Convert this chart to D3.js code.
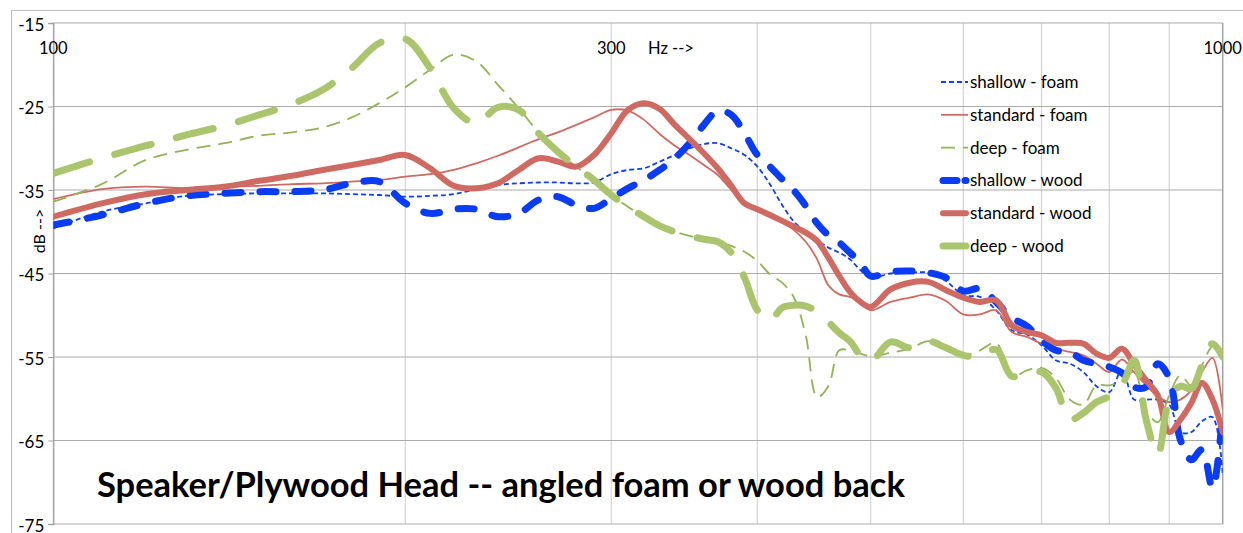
<!DOCTYPE html>
<html>
<head>
<meta charset="utf-8">
<script src="https://cdn.jsdelivr.net/npm/d3@7/dist/d3.min.js"></script>
<style>
  body { margin: 0; background: #fff; }
  svg { display: block; }
</style>
</head>
<body>
<svg id="chart"></svg>
<script>
// frequencies (Hz) shared by all six series
var freqs = [100,110,120,130,140,150,160,170,180,190,200,210,220,230,240,250,260,270,280,290,
  300,310,320,330,340,350,360,370,380,390,400,410,420,430,440,450,460,470,480,490,500,
  520,540,560,580,600,620,640,660,680,700,720,740,760,780,800,820,840,860,880,900,920,940,960,980,1000];

var shallowFoam = [-39.6,-37.6,-36.6,-35.7,-35.5,-35.4,-35.4,-35.4,-35.5,-35.6,-35.8,-35.7,-35.5,-34.9,-34.4,-34.2,-34.1,-34.1,-34.2,-34.1,
  -33.1,-32.6,-32.4,-31.6,-30.8,-30.0,-29.5,-29.4,-30.0,-30.8,-32.2,-34.3,-36.8,-38.8,-40.0,-41.0,-41.9,-42.5,-43.3,-44.6,-45.5,
  -45.0,-44.9,-44.9,-45.9,-47.6,-47.8,-49.4,-51.8,-52.3,-53.6,-55.4,-55.8,-56.8,-58.5,-59.2,-56.6,-60.1,-60.1,-60.1,-60.7,-64.0,-64.0,-62.7,-62.2,-69.1];

var standardFoam = [-36.1,-34.9,-34.6,-34.8,-34.6,-34.5,-34.3,-34.2,-34.0,-33.8,-33.4,-33.1,-32.6,-31.8,-30.9,-29.9,-28.9,-28.1,-27.2,-26.3,
  -25.4,-25.5,-26.6,-28.3,-29.7,-30.8,-32.0,-33.2,-35.0,-36.7,-37.4,-38.1,-38.8,-39.8,-41.2,-43.3,-46.4,-47.5,-47.8,-48.5,-49.4,
  -48.4,-47.9,-47.5,-48.3,-49.9,-49.9,-49.4,-52.0,-52.6,-53.4,-54.0,-54.4,-54.8,-55.8,-56.8,-55.3,-56.8,-58.4,-59.7,-60.4,-60.1,-59.0,-56.8,-55.1,-61.3];

var deepFoam = [-36.4,-34.3,-31.4,-30.2,-29.4,-28.5,-28.1,-27.5,-26.3,-24.6,-22.7,-20.6,-18.8,-19.6,-22.4,-25.2,-28.1,-30.4,-32.2,-33.8,
  -35.6,-37.0,-38.2,-39.3,-40.0,-40.5,-40.9,-41.2,-41.7,-42.4,-43.5,-45.1,-46.1,-47.9,-52.4,-59.8,-58.5,-54.2,-54.2,-54.6,-54.9,
  -54.5,-54.0,-53.1,-53.9,-54.8,-54.2,-53.3,-57.4,-56.6,-56.3,-57.5,-60.1,-60.7,-58.4,-58.4,-57.8,-56.8,-61.3,-62.8,-59.6,-57.2,-58.4,-56.0,-53.7,-53.6];

var shallowWood = [-39.2,-38.0,-36.6,-35.7,-35.4,-35.2,-35.2,-35.0,-34.2,-34.0,-36.6,-37.8,-37.3,-37.3,-38.2,-37.8,-36.2,-35.8,-36.8,-37.2,
  -36.0,-34.8,-33.8,-32.6,-31.2,-29.4,-27.2,-25.5,-26.0,-28.2,-30.8,-32.2,-33.7,-35.1,-36.9,-39.0,-40.4,-41.3,-42.5,-43.7,-45.3,
  -44.8,-44.7,-44.9,-45.5,-47.1,-46.8,-48.4,-50.3,-51.3,-53.0,-54.2,-54.4,-55.4,-55.8,-56.2,-56.9,-58.6,-58.6,-55.8,-57.5,-64.9,-67.3,-66.1,-70.7,-61.7];

var standardWood = [-38.2,-36.6,-35.5,-35.0,-34.6,-33.9,-33.3,-32.6,-32.0,-31.4,-30.8,-32.4,-34.5,-34.8,-34.2,-32.6,-31.2,-31.6,-32.2,-30.8,
  -28.2,-25.4,-24.6,-25.3,-27.2,-28.9,-30.6,-32.4,-34.5,-36.6,-37.3,-38.0,-38.7,-39.4,-40.1,-41.1,-43.1,-45.3,-47.2,-48.4,-49.0,
  -46.9,-46.1,-46.0,-47.0,-47.9,-48.4,-48.2,-51.2,-52.0,-52.4,-53.3,-53.3,-53.4,-54.6,-55.1,-54.0,-55.9,-57.8,-59.6,-64.0,-62.5,-60.5,-58.1,-60.1,-64.0];

var deepWood = [-33.0,-31.2,-29.7,-28.4,-27.3,-26.0,-24.7,-23.0,-20.4,-17.4,-16.9,-20.4,-25.2,-27.0,-25.1,-25.4,-28.2,-30.4,-32.2,-33.8,
  -35.6,-37.0,-38.2,-39.3,-40.0,-40.5,-40.9,-41.2,-42.5,-45.5,-49.4,-50.6,-49.1,-48.8,-48.9,-49.6,-50.8,-52.1,-53.1,-54.8,-55.5,
  -53.2,-53.9,-53.1,-53.9,-54.8,-54.9,-54.1,-57.3,-57.0,-56.8,-58.7,-62.5,-61.7,-60.4,-59.7,-58.4,-55.4,-62.5,-66.7,-60.1,-58.5,-58.8,-56.0,-53.4,-55.0];

var seriesNames = ["shallow - foam","standard - foam","deep - foam","shallow - wood","standard - wood","deep - wood"];
var seriesValues = [shallowFoam, standardFoam, deepFoam, shallowWood, standardWood, deepWood];

var yTicks = [-15,-25,-35,-45,-55,-65,-75];
var xGrid = [100,200,300,400,500,600,700,800,900,1000];
var xLabels = [100,300,1000];

// line styles per series
var styles = [
  {color:"#1040f0", width:1.8, dash:"5,3", cap:"butt"},
  {color:"#cf6a63", width:1.8, dash:null, cap:"butt"},
  {color:"#93b25a", width:1.8, dash:"14,8", cap:"butt"},
  {color:"#0a3cf5", width:7, dash:"16,19", cap:"round"},
  {color:"#cf6a63", width:6, dash:null, cap:"round"},
  {color:"#abc56e", width:7, dash:"38,26", cap:"round"}
];

var W = 1243, H = 533;
var pLeft = 53.3, pRight = 1222.7, pTop = 23, pBottom = 524;
var font = "Lato, 'Open Sans', sans-serif";

var svg = d3.select("#chart").attr("width", W).attr("height", H);

// outer chart area border
svg.append("rect")
  .attr("x", 11.5).attr("y", 10.5)
  .attr("width", 1300).attr("height", 600)
  .attr("fill", "none").attr("stroke", "#bdbdbd").attr("stroke-width", 1);

var x = d3.scaleLog().domain([100, 1000]).range([pLeft, pRight]);
var y = d3.scaleLinear().domain([-75, -15]).range([pBottom, pTop]);

// vertical gridlines
svg.append("g").selectAll("line")
  .data(xGrid)
  .enter().append("line")
  .attr("x1", function(d){return x(d);})
  .attr("x2", function(d){return x(d);})
  .attr("y1", pTop).attr("y2", pBottom)
  .attr("stroke", "#d4d4d4").attr("stroke-width", 1.2);

// horizontal gridlines
svg.append("g").selectAll("line")
  .data(yTicks)
  .enter().append("line")
  .attr("x1", pLeft).attr("x2", pRight)
  .attr("y1", function(d){return y(d);})
  .attr("y2", function(d){return y(d);})
  .attr("stroke", "#ababab").attr("stroke-width", 1.2);

// right border of plot
svg.append("line").attr("x1", pRight).attr("x2", pRight).attr("y1", pTop).attr("y2", pBottom)
  .attr("stroke", "#a0a0a0").attr("stroke-width", 1.3);

var yAxis = d3.axisLeft(y).tickValues(yTicks).tickSize(5).tickPadding(4)
  .tickFormat(function(d){ return "-" + Math.abs(d); });
var yg = svg.append("g").attr("transform", "translate(" + pLeft + ",0)").call(yAxis);
yg.select(".domain").attr("stroke", "#a0a0a0").attr("stroke-width", 1.3);
yg.selectAll(".tick line").attr("stroke", "#a0a0a0");
yg.selectAll(".tick text")
  .attr("font-family", font)
  .attr("font-size", 17).attr("fill", "#000")
  .attr("dy", "0.42em");

// x labels, drawn inside the plot near the top
var xg = svg.append("g").attr("font-family", font).attr("font-size", 16.5);
xg.selectAll("text.xl")
  .data(xLabels)
  .enter().append("text")
  .attr("class", "xl")
  .attr("x", function(d){return x(d);})
  .attr("y", 54)
  .attr("text-anchor", "middle")
  .text(function(d){return d;});
xg.append("text").attr("x", 648).attr("y", 54).text("Hz -->");

svg.append("text")
  .attr("transform", "translate(45,231) rotate(-90)")
  .attr("text-anchor", "middle")
  .attr("font-family", font)
  .attr("font-size", 16)
  .text("dB -->");

// data lines
svg.append("clipPath").attr("id", "plotclip")
  .append("rect").attr("x", pLeft).attr("y", pTop - 5)
  .attr("width", pRight - pLeft).attr("height", pBottom - pTop + 5);

var line = d3.line()
  .x(function(d){return x(d[0]);})
  .y(function(d){return y(d[1]);})
  .curve(d3.curveCatmullRom.alpha(0.5));

var lines = svg.append("g").attr("clip-path", "url(#plotclip)");
seriesValues.forEach(function(vals, i)
{
  var pts = freqs.map(function(f, j){return [f, vals[j]];});
  var st = styles[i];
  lines.append("path")
    .attr("d", line(pts))
    .attr("fill", "none")
    .attr("stroke", st.color)
    .attr("stroke-width", st.width)
    .attr("stroke-linecap", st.cap)
    .attr("stroke-linejoin", "round")
    .attr("stroke-dasharray", st.dash);
});

// legend
var legend = svg.append("g");
seriesNames.forEach(function(name, i)
{
  var st = styles[i];
  var ly = 82 + i * 32.8;
  legend.append("line")
    .attr("x1", i >= 3 ? 943 : 941).attr("x2", i >= 3 ? 966 : 968)
    .attr("y1", ly).attr("y2", ly)
    .attr("stroke", st.color)
    .attr("stroke-width", st.width)
    .attr("stroke-linecap", st.cap)
    .attr("stroke-dasharray", i == 3 ? "14,8" : (i == 5 ? null : st.dash));
  legend.append("text")
    .attr("x", 970).attr("y", ly + 6)
    .attr("font-family", font)
    .attr("font-size", 17)
    .text(name);
});

// title
var title = svg.append("text")
  .attr("x", 97).attr("y", 497)
  .attr("font-family", font)
  .attr("font-weight", "bold")
  .attr("font-size", 29)
  .text("Speaker/Plywood Head -- angled foam or wood back");
var tw = title.node().getComputedTextLength();
title.attr("font-size", 29 * 808 / tw);
</script>
</body>
</html>
